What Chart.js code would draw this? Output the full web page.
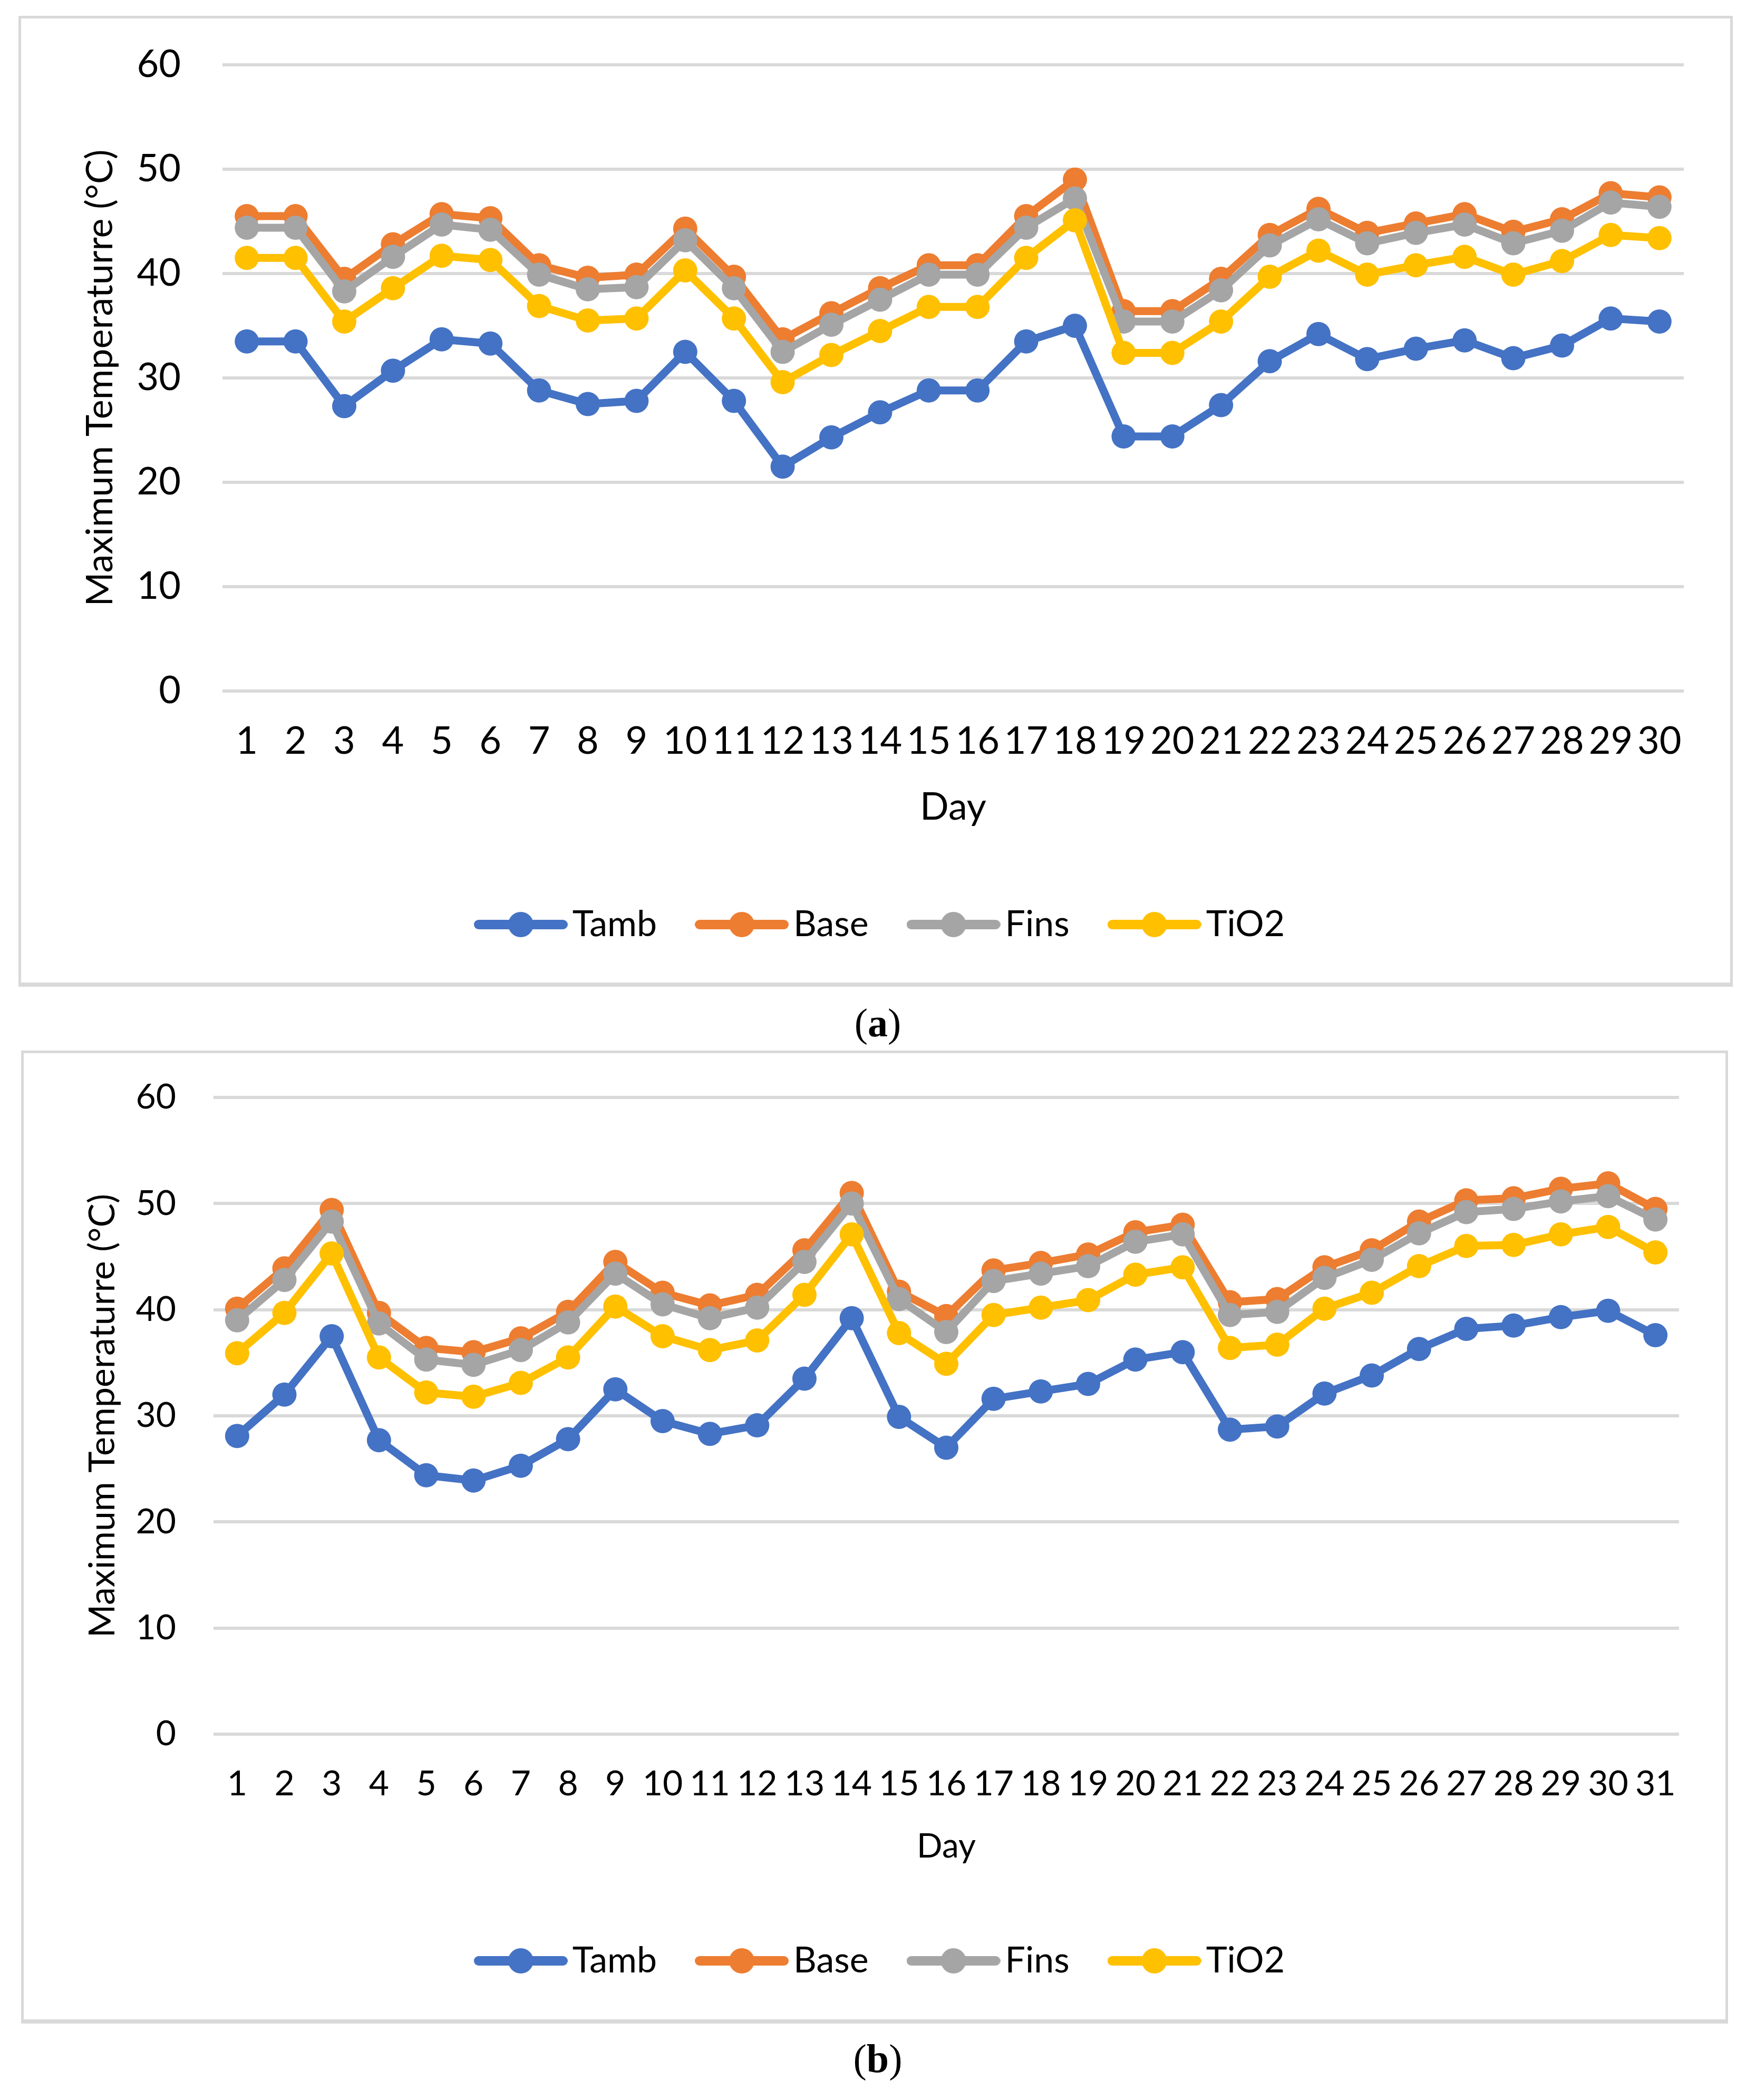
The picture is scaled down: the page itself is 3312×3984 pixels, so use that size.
<!DOCTYPE html>
<html>
<head>
<meta charset="utf-8">
<script src="https://cdn.jsdelivr.net/npm/chart.js@4.4.1/dist/chart.umd.min.js"></script>
<style>
  html, body { margin: 0; padding: 0; background: #fff; }
  body { width: 3312px; height: 3984px; position: relative; overflow: hidden; }
  .box { position: absolute; border: 5px solid #d9d9d9; border-bottom-width: 8px; box-sizing: border-box; }
  canvas { position: absolute; }
  .cap { position: absolute; font-family: 'Liberation Serif', serif; font-size: 76px; transform: translate(-50%, -50%); color: #000; }
</style>
</head>
<body>
<div class="box" style="left:35px;top:30px;width:3252px;height:1842px;"></div>
<canvas id="chartA" width="3252" height="1842" style="left:35px;top:30px;"></canvas>
<div class="cap" style="left:1665px;top:1940px;">(<b>a</b>)</div>

<div class="box" style="left:40px;top:1993px;width:3238px;height:1846px;"></div>
<canvas id="chartB" width="3238" height="1846" style="left:40px;top:1993px;"></canvas>
<div class="cap" style="left:1665px;top:3905px;">(<b>b</b>)</div>

<script>
// (a) 30 days
const daysA = ['1','2','3','4','5','6','7','8','9','10','11','12','13','14','15',
  '16','17','18','19','20','21','22','23','24','25','26','27','28','29','30'];
const tambA = [33.5, 33.5, 27.3, 30.7, 33.7, 33.3, 28.8, 27.5, 27.8, 32.5, 27.8, 21.5, 24.3, 26.7, 28.8,
  28.8, 33.5, 35.0, 24.4, 24.4, 27.4, 31.6, 34.2, 31.8, 32.8, 33.6, 31.9, 33.1, 35.7, 35.4];
const baseA = [45.5, 45.5, 39.5, 42.8, 45.7, 45.3, 40.8, 39.6, 39.9, 44.3, 39.7, 33.7, 36.2, 38.6, 40.8,
  40.8, 45.5, 49.0, 36.4, 36.4, 39.5, 43.7, 46.2, 43.9, 44.8, 45.7, 44.0, 45.2, 47.7, 47.3];
const finsA = [44.4, 44.4, 38.3, 41.6, 44.7, 44.2, 39.9, 38.5, 38.7, 43.2, 38.6, 32.5, 35.1, 37.5, 39.9,
  39.9, 44.4, 47.2, 35.4, 35.4, 38.4, 42.7, 45.2, 42.9, 43.9, 44.7, 42.9, 44.1, 46.8, 46.4];
const tio2A = [41.5, 41.5, 35.4, 38.6, 41.7, 41.3, 36.9, 35.5, 35.7, 40.3, 35.7, 29.6, 32.2, 34.5, 36.8,
  36.8, 41.5, 45.1, 32.4, 32.4, 35.4, 39.7, 42.2, 39.9, 40.8, 41.6, 39.9, 41.2, 43.7, 43.4];

// (b) 31 days
const daysB = ['1','2','3','4','5','6','7','8','9','10','11','12','13','14','15','16',
  '17','18','19','20','21','22','23','24','25','26','27','28','29','30','31'];
const tambB = [28.1, 32.0, 37.5, 27.7, 24.4, 23.9, 25.3, 27.8, 32.5, 29.5, 28.3, 29.1, 33.5, 39.2, 29.9, 27.0,
  31.6, 32.3, 33.0, 35.3, 36.0, 28.7, 29.0, 32.1, 33.8, 36.3, 38.2, 38.5, 39.3, 39.9, 37.6];
const baseB = [40.1, 43.9, 49.4, 39.7, 36.4, 36.0, 37.3, 39.8, 44.5, 41.6, 40.4, 41.4, 45.6, 51.0, 41.7, 39.4,
  43.7, 44.4, 45.2, 47.3, 48.0, 40.7, 41.0, 44.0, 45.6, 48.3, 50.3, 50.5, 51.4, 51.9, 49.5];
const finsB = [39.0, 42.8, 48.3, 38.7, 35.3, 34.8, 36.2, 38.8, 43.4, 40.5, 39.2, 40.2, 44.5, 50.0, 41.0, 37.9,
  42.7, 43.4, 44.1, 46.4, 47.1, 39.5, 39.8, 43.0, 44.7, 47.2, 49.2, 49.5, 50.2, 50.7, 48.5];
const tio2B = [35.9, 39.7, 45.3, 35.5, 32.2, 31.8, 33.1, 35.5, 40.3, 37.5, 36.2, 37.1, 41.4, 47.1, 37.8, 34.9,
  39.5, 40.2, 40.9, 43.3, 44.0, 36.4, 36.7, 40.1, 41.6, 44.1, 46.0, 46.1, 47.1, 47.8, 45.4];

const seriesNames = ['Tamb', 'Base', 'Fins', 'TiO2'];
const seriesColors = ['#4472C4', '#ED7D31', '#A5A5A5', '#FFC000'];
const yTicks = [0, 10, 20, 30, 40, 50, 60];

// line + dot used as the legend symbol
function legendMarker(color) {
  const c = document.createElement('canvas');
  c.width = 178;
  c.height = 52;
  const g = c.getContext('2d');
  g.strokeStyle = color;
  g.lineWidth = 18;
  g.lineCap = 'round';
  g.beginPath();
  g.moveTo(9, 26);
  g.lineTo(169, 26);
  g.stroke();
  g.fillStyle = color;
  g.beginPath();
  g.arc(89, 26, 24, 0, Math.PI * 2);
  g.fill();
  return c;
}
const markers = seriesColors.map(legendMarker);

function drawChart(id, days, values, g) {
  const ctx = document.getElementById(id).getContext('2d');
  return new Chart(ctx, {
    type: 'line',
    data: {
      labels: days,
      datasets: values.map((data, i) => ({
        label: seriesNames[i],
        data: data,
        borderColor: seriesColors[i],
        backgroundColor: seriesColors[i],
        pointBackgroundColor: seriesColors[i],
        pointBorderColor: seriesColors[i],
        borderWidth: 15,
        pointRadius: 23,
        pointBorderWidth: 0,
        borderJoinStyle: 'round',
        tension: 0,
        order: values.length - i, // later series on top, like Excel
      })),
    },
    options: {
      responsive: false,
      animation: false,
      devicePixelRatio: 1,
      layout: { padding: { left: g.padLeft, right: g.padRight, top: g.padTop, bottom: g.padBottom } },
      plugins: {
        tooltip: { enabled: false },
        legend: {
          position: 'bottom',
          labels: {
            usePointStyle: true,
            pointStyleWidth: 128,
            padding: 97,
            color: '#000',
            font: { family: 'Lato', size: 68 },
            sort: (a, b) => a.datasetIndex - b.datasetIndex,
            generateLabels: (chart) => chart.data.datasets.map((ds, i) => ({
              text: ds.label,
              datasetIndex: i,
              pointStyle: markers[i],
              fontColor: '#000',
              fillStyle: ds.borderColor,
              strokeStyle: ds.borderColor,
              lineWidth: 0,
              hidden: false,
            })),
          },
        },
      },
      scales: {
        x: {
          offset: true,
          grid: { display: false, drawTicks: false },
          border: { display: false },
          ticks: {
            color: '#000',
            font: { family: 'Lato', size: g.tickSize },
            padding: g.xTickPad,
            autoSkip: false,
            maxRotation: 0,
          },
          title: {
            display: true,
            text: 'Day',
            color: '#000',
            font: { family: 'Lato', size: g.dayFont },
            padding: { top: 0, bottom: g.dayPad },
          },
          afterFit: (s) => {
            s.height = g.xHeight;
            s.paddingLeft = 0;
            s.paddingRight = 0;
          },
        },
        y: {
          min: yTicks[0],
          max: yTicks[yTicks.length - 1],
          grid: { color: '#d9d9d9', lineWidth: 6, drawTicks: false },
          border: { display: false },
          ticks: {
            stepSize: 10,
            color: '#000',
            font: { family: 'Lato', size: g.tickSize },
            padding: g.yTickPad,
          },
          title: {
            display: true,
            text: 'Maximum Temperaturre (°C)',
            color: '#000',
            font: { family: 'Lato', size: g.yTitleFont },
            padding: { top: g.yTitlePad, bottom: 0 },
          },
          afterFit: (s) => {
            s.width = g.yWidth;
            s.paddingTop = 0;
            s.paddingBottom = 0;
          },
        },
      },
    },
  });
}

drawChart('chartA', daysA, [tambA, baseA, finsA, tio2A], {
  padLeft: 132, padTop: 93, padRight: 93, padBottom: 74,
  yWidth: 255, yTickPad: 79, yTitleFont: 70, yTitlePad: -19,
  xHeight: 312, xTickPad: 53, tickSize: 72, dayFont: 72, dayPad: 48,
});

drawChart('chartB', daysB, [tambB, baseB, finsB, tio2B], {
  padLeft: 136, padTop: 89, padRight: 93, padBottom: 75,
  yWidth: 229, yTickPad: 71, yTitleFont: 68, yTitlePad: -22,
  xHeight: 299, xTickPad: 55, tickSize: 66, dayFont: 64, dayPad: 47,
});
</script>
</body>
</html>
